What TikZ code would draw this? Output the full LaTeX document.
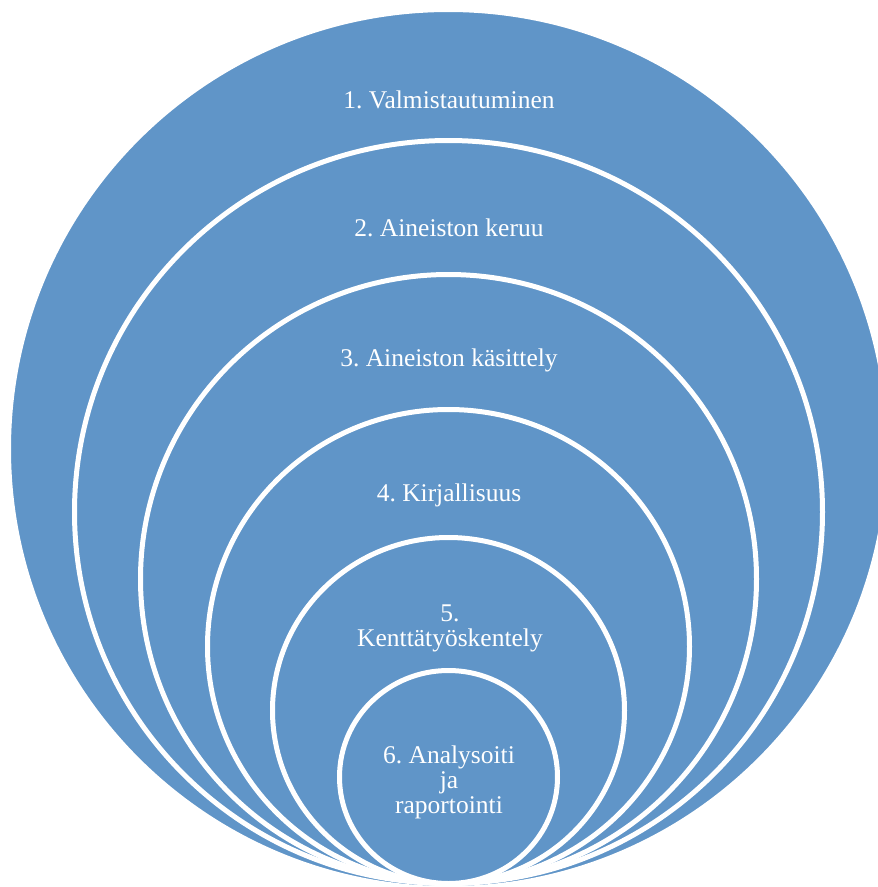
\documentclass[tikz,border=0pt]{standalone}
\usepackage{fontspec}
\setmainfont{Liberation Serif}
\usetikzlibrary{shapes.geometric}
\definecolor{ringblue}{RGB}{96,149,200}
\frenchspacing
\tikzset{
  ring/.style={ellipse, fill=ringblue, draw=white, line width=5pt, inner sep=0pt},
  lbl/.style={text=white, font=\fontsize{25.5}{25}\selectfont, align=center, inner sep=0pt}
}
\begin{document}
\begin{tikzpicture}[x=1pt,y=-1pt]
\useasboundingbox (0,0) rectangle (878,887);
\clip (0,0) rectangle (878,887);
\node[ring, minimum width=880pt, minimum height=879pt] (c1) at (448.5,449) {};
\node[ring, minimum width=748pt, minimum height=743pt] (c2) at (448.5,512) {};
\node[ring, minimum width=616pt, minimum height=609pt] (c3) at (448.5,579) {};
\node[ring, minimum width=482pt, minimum height=474pt] (c4) at (448.5,646.5) {};
\node[ring, minimum width=352pt, minimum height=346pt] (c5) at (448.5,710.5) {};
\node[ring, minimum width=218pt, minimum height=213pt] (c6) at (448.5,777) {};
\node[lbl] (t1) at (449,100) {1. Valmistautuminen};
\node[lbl] (t2) at (449,228) {2. Aineiston keruu};
\node[lbl] (t3) at (449,360) {3. Aineiston käsittely};
\node[lbl] (t4) at (449,495) {4. Kirjallisuus};
\node[lbl] (t5) at (450,628) {5.\\Kenttätyöskentely};
\node[lbl] (t6) at (449,782) {6. Analysoiti\\ja\\raportointi};
\end{tikzpicture}
\end{document}
